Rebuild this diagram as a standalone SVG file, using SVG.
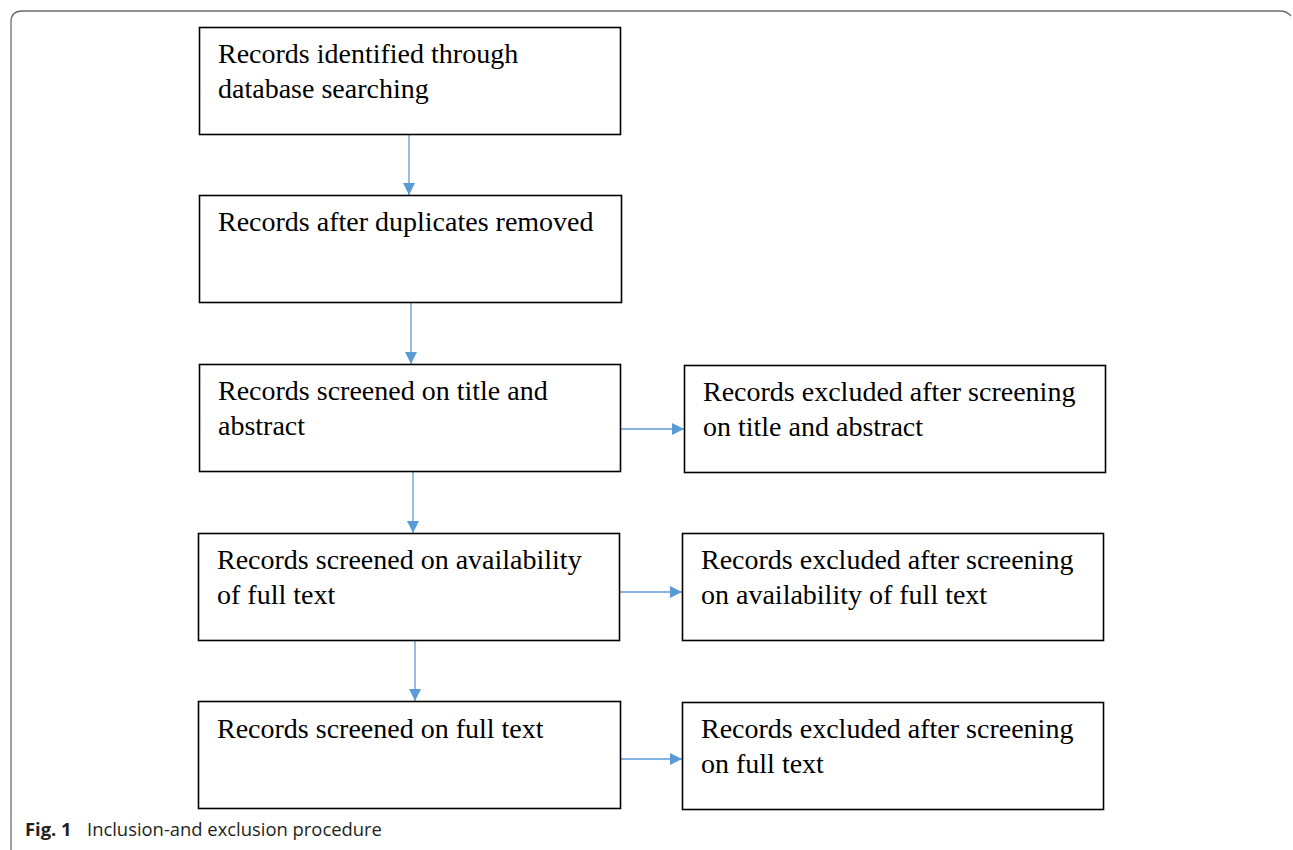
<svg xmlns="http://www.w3.org/2000/svg" width="1293" height="850" viewBox="0 0 1293 850">
<style>
.box{fill:#fff;stroke:#000;stroke-width:1.6}
.t{font-family:"Liberation Serif","Times New Roman",serif;font-size:28px;fill:#000}
.c{stroke:#5B9BD5;stroke-width:1.3;fill:none}
.cap{font-family:"Open Sans","Noto Sans",sans-serif;font-size:18.4px;fill:#231f20}
</style>
<defs>
<marker id="ah" viewBox="0 0 10 10" refX="10" refY="5" markerWidth="12" markerHeight="12" markerUnits="userSpaceOnUse" orient="auto">
<path d="M0,0 L10,5 L0,10 Z" fill="#5B9BD5"/>
</marker>
</defs>
<rect width="1293" height="850" fill="#fff"/>
<path d="M11,852 L11,22 Q11,11 22,11 L1280,11 Q1287,11 1291,16" fill="none" stroke="#6d6d6d" stroke-width="1.3"/>
<g id="connectors">
<line class="c" x1="409" y1="135" x2="409" y2="195" marker-end="url(#ah)"/>
<line class="c" x1="411" y1="303" x2="411" y2="364" marker-end="url(#ah)"/>
<line class="c" x1="413" y1="472" x2="413" y2="533" marker-end="url(#ah)"/>
<line class="c" x1="415" y1="641" x2="415" y2="701" marker-end="url(#ah)"/>
<line class="c" x1="621" y1="429" x2="684" y2="429" marker-end="url(#ah)"/>
<line class="c" x1="620" y1="592" x2="682" y2="592" marker-end="url(#ah)"/>
<line class="c" x1="621" y1="759" x2="682" y2="759" marker-end="url(#ah)"/>
</g>
<g id="n1"><rect class="box" x="199.5" y="27.5" width="421" height="107"/>
<text class="t" x="218" y="63">Records identified through</text><text class="t" x="218" y="98">database searching</text></g>
<g id="n2"><rect class="box" x="199.5" y="195.5" width="422" height="107"/>
<text class="t" x="218" y="231">Records after duplicates removed</text></g>
<g id="n3"><rect class="box" x="199.5" y="364.5" width="421" height="107"/>
<text class="t" x="218" y="400">Records screened on title and</text><text class="t" x="218" y="435">abstract</text></g>
<g id="n4"><rect class="box" x="684.5" y="365.5" width="421" height="107"/>
<text class="t" x="703" y="401">Records excluded after screening</text><text class="t" x="703" y="436">on title and abstract</text></g>
<g id="n5"><rect class="box" x="198.5" y="533.5" width="421" height="107"/>
<text class="t" x="217" y="569">Records screened on availability</text><text class="t" x="217" y="604">of full text</text></g>
<g id="n6"><rect class="box" x="682.5" y="533.5" width="421" height="107"/>
<text class="t" x="701" y="569">Records excluded after screening</text><text class="t" x="701" y="604">on availability of full text</text></g>
<g id="n7"><rect class="box" x="198.5" y="701.5" width="422" height="107"/>
<text class="t" x="217" y="738">Records screened on full text</text></g>
<g id="n8"><rect class="box" x="682.5" y="702.5" width="421" height="107"/>
<text class="t" x="701" y="738">Records excluded after screening</text><text class="t" x="701" y="773">on full text</text></g>
<text class="cap" x="25" y="836"><tspan font-weight="bold">Fig. 1</tspan><tspan x="87">Inclusion-and exclusion procedure</tspan></text>
</svg>
